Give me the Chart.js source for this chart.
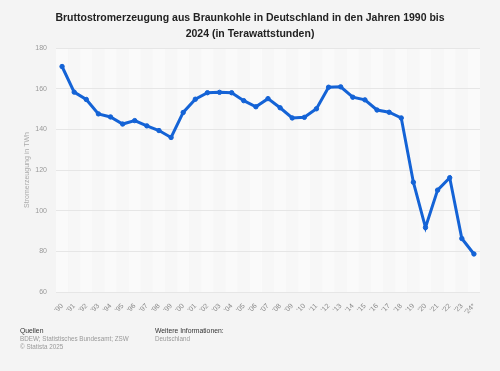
<!DOCTYPE html>
<html>
<head>
<meta charset="utf-8">
<script src="https://cdn.jsdelivr.net/npm/chart.js@4"></script>
<style>
  html, body { margin: 0; padding: 0; background: #f4f4f4; }
  #wrap { position: relative; width: 500px; height: 371px; font-family: "Liberation Sans", Arial, sans-serif; }
  #title { position: absolute; left: 0; top: 9px; width: 500px; text-align: center; font-weight: bold; font-size: 10.5px; line-height: 16px; color: #222; }
  canvas { position: absolute; left: 0; top: 0; }
  .foot { position: absolute; top: 327px; font-size: 6.3px; line-height: 8px; color: #999; }
  .foot b { font-weight: normal; color: #333; font-size: 6.8px; }
</style>
</head>
<body>
<div id="wrap">
  <canvas id="chart" width="500" height="371"></canvas>
  <div id="title">Bruttostromerzeugung aus Braunkohle in Deutschland in den Jahren 1990 bis<br>2024 (in Terawattstunden)</div>
  <div class="foot" style="left:20px"><b>Quellen</b><br>BDEW; Statistisches Bundesamt; ZSW<br>© Statista 2025</div>
  <div class="foot" style="left:155px"><b>Weitere Informationen:</b><br>Deutschland</div>
</div>
<script>
// Data
const years = ["'90","'91","'92","'93","'94","'95","'96","'97","'98","'99","'00","'01","'02","'03","'04","'05","'06","'07","'08","'09","'10","'11","'12","'13","'14","'15","'16","'17","'18","'19","'20","'21","'22","'23","'24*"];
const lignite = [170.9,158.3,154.7,147.6,146.1,142.6,144.3,141.7,139.4,136.0,148.3,154.8,158.0,158.2,158.0,154.1,151.1,155.1,150.6,145.6,145.9,150.1,160.7,160.9,155.8,154.5,149.5,148.4,145.6,114.0,91.7,110.1,116.2,86.3,78.7];
const yTicks = [60, 80, 100, 120, 140, 160, 180];

// alternating column stripes behind the line
const stripes = {
  id: 'stripes',
  beforeDraw(chart) {
    const { ctx, chartArea, scales } = chart;
    const x = scales.x;
    const w = (chartArea.right - chartArea.left) / years.length;
    ctx.save();
    years.forEach((y, i) => {
      ctx.fillStyle = i % 2 ? '#f7f7f7' : '#fafafa';
      const cx = x.getPixelForValue(i);
      ctx.fillRect(cx - w / 2, chartArea.top, w, chartArea.bottom - chartArea.top);
    });
    ctx.restore();
  }
};

const ctx = document.getElementById('chart').getContext('2d');
new Chart(ctx, {
  type: 'line',
  data: {
    labels: years,
    datasets: [{
      data: lignite,
      borderColor: '#1463d6',
      backgroundColor: '#1463d6',
      borderWidth: 3,
      pointRadius: 2.2,
      pointBorderWidth: 1,
      pointHoverRadius: 2.2,
      tension: 0,
      fill: false
    }]
  },
  options: {
    responsive: false,
    animation: false,
    layout: { padding: { top: 48, right: 20, bottom: 49, left: 0 } },
    plugins: { legend: { display: false }, tooltip: { enabled: false } },
    scales: {
      x: {
        offset: true,
        grid: { display: false },
        border: { display: false },
        ticks: {
          color: '#888', font: { family: 'Liberation Sans', size: 7 },
          maxRotation: 45, minRotation: 45, autoSkip: false, padding: 2
        },
        afterFit(s) { s.height = 30; }
      },
      y: {
        min: 60, max: 180,
        afterBuildTicks(s) { s.ticks = yTicks.map(v => ({ value: v })); },
        grid: { color: '#e6e6e6', lineWidth: 1, drawTicks: false },
        border: { display: false },
        ticks: { color: '#999', font: { family: 'Liberation Sans', size: 7 }, padding: 9 },
        title: { display: true, text: 'Stromerzeugung in TWh', color: '#aaa', font: { family: 'Liberation Sans', size: 7 }, padding: { top: 23, bottom: 0 } },
        afterFit(s) { s.width = 56; }
      }
    }
  },
  plugins: [stripes]
});
</script>
</body>
</html>
